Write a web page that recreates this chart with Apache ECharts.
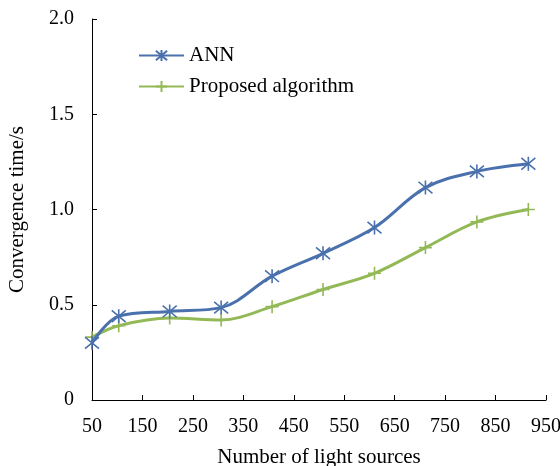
<!DOCTYPE html>
<html>
<head>
<meta charset="utf-8">
<script src="https://cdn.jsdelivr.net/npm/echarts@6/dist/echarts.min.js"></script>
<style>
html,body{margin:0;padding:0;background:#fff;}
#chart{width:560px;height:466px;}
</style>
</head>
<body>
<div id="chart"></div>
<script>
// Data
var lightSources = [50, 103, 204, 306, 407, 508, 610, 711, 813, 915];
var annTime = [0.30, 0.44, 0.465, 0.485, 0.65, 0.77, 0.905, 1.115, 1.20, 1.24];
var proposedTime = [0.33, 0.39, 0.43, 0.42, 0.49, 0.58, 0.665, 0.80, 0.935, 1.00];
var xTickLabels = [50, 150, 250, 350, 450, 550, 650, 750, 850, 950];
var yTickLabels = [0, 0.5, 1.0, 1.5, 2.0];
var seriesNames = ['ANN', 'Proposed algorithm'];

function pairs(xs, ys) {
  return xs.map(function (x, i) { return [x, ys[i]]; });
}

var FONT = 'Liberation Serif';
var BLUE = '#4a71ad';
var GREEN = '#93b957';

var chart = echarts.init(document.getElementById('chart'), null, {renderer: 'canvas'});
chart.setOption({
  backgroundColor: '#ffffff',
  animation: false,
  textStyle: {fontFamily: FONT, color: '#000'},
  grid: {left: 92, right: 14, top: 19, bottom: 66, outerBoundsMode: 'none', containLabel: false},
  legend: {
    orient: 'vertical',
    left: 133,
    top: 40,
    padding: 5,
    itemWidth: 45,
    itemHeight: 14,
    itemGap: 10,
    data: seriesNames,
    textStyle: {fontFamily: FONT, fontSize: 21, color: '#000', lineHeight: 21}
  },
  xAxis: {
    type: 'value',
    min: xTickLabels[0],
    max: xTickLabels[xTickLabels.length - 1],
    name: 'Number of light sources',
    nameLocation: 'middle',
    nameGap: 47,
    nameTextStyle: {fontFamily: FONT, fontSize: 21, color: '#000'},
    axisLine: {show: true, lineStyle: {color: '#000', width: 1}},
    axisTick: {show: true, inside: true, length: 5, lineStyle: {color: '#000'}, customValues: xTickLabels},
    axisLabel: {fontFamily: FONT, fontSize: 20, color: '#000', margin: 17, customValues: xTickLabels},
    splitLine: {show: false}
  },
  yAxis: {
    type: 'value',
    min: 0,
    max: 2,
    interval: 0.5,
    name: 'Convergence time/s',
    nameLocation: 'middle',
    nameGap: 64,
    nameTextStyle: {fontFamily: FONT, fontSize: 21, color: '#000'},
    axisLine: {show: true, lineStyle: {color: '#000', width: 1}},
    axisTick: {show: true, inside: true, length: 5, lineStyle: {color: '#000'}, customValues: yTickLabels},
    axisLabel: {
      fontFamily: FONT, fontSize: 20, color: '#000', margin: 18, customValues: yTickLabels,
      formatter: function (v) { return v === 0 ? '0' : v.toFixed(1); }
    },
    splitLine: {show: false}
  },
  series: [
    {
      name: seriesNames[0],
      type: 'line',
      smooth: 0.35,
      data: pairs(lightSources, annTime),
      symbol: 'path://M0,0L10,10M10,0L0,10M5,-1L5,11',
      symbolSize: 14,
      lineStyle: {color: BLUE, width: 3},
      itemStyle: {color: BLUE, borderColor: BLUE, borderWidth: 1.6},
      z: 3
    },
    {
      name: seriesNames[1],
      type: 'line',
      smooth: 0.35,
      data: pairs(lightSources, proposedTime),
      symbol: 'path://M5,0L5,10M0,5L10,5',
      symbolSize: 13,
      lineStyle: {color: GREEN, width: 3},
      itemStyle: {color: GREEN, borderColor: GREEN, borderWidth: 1.6},
      z: 2
    }
  ]
});
</script>
</body>
</html>
